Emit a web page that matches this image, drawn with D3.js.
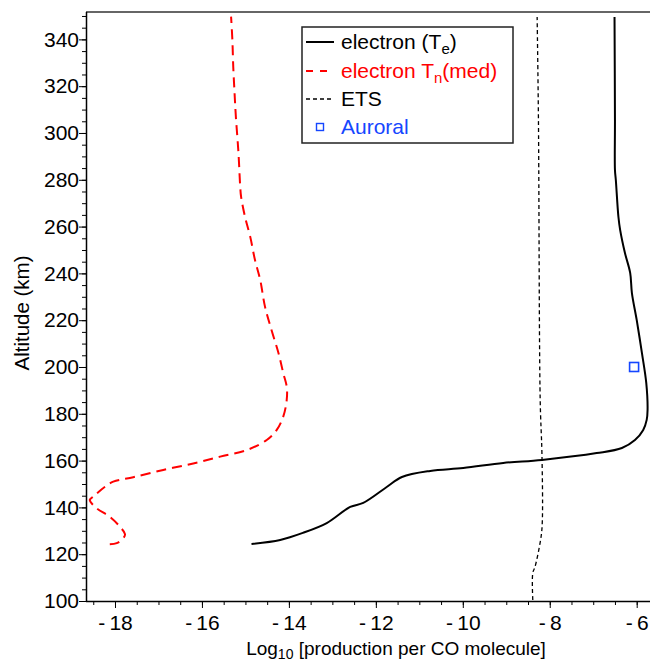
<!DOCTYPE html>
<html>
<head>
<meta charset="utf-8">
<script src="https://cdn.jsdelivr.net/npm/d3@7"></script>
<style>
  body { margin: 0; background: #fff; }
  svg { display: block; font-family: "Liberation Sans", Arial, sans-serif; }
</style>
</head>
<body>
<script>
// electron (Te) profile
const teAlt = [124.4, 126.1, 129.1, 133.3, 140.2, 141.9, 148.7, 153.0, 155.6, 156.8, 159.0, 160.3, 163.2, 165.4, 168.8, 173.1, 177.4, 181.6, 193.2, 206.0, 220.1, 231.6, 240.2, 248.7, 258.5, 264.1, 279.9, 284.2, 305.6, 349.6];
const teVal = [-14.86, -14.20, -13.68, -13.13, -12.59, -12.29, -11.75, -11.40, -10.75, -9.99, -9.07, -8.18, -6.92, -6.34, -6.04, -5.85, -5.77, -5.75, -5.78, -5.88, -6.00, -6.11, -6.15, -6.27, -6.38, -6.42, -6.48, -6.50, -6.50, -6.51];

// electron Tn(med) profile
const tnAlt = [124.2, 124.7, 126.8, 128.6, 131.8, 136.0, 139.6, 143.2, 144.6, 148.8, 151.0, 152.9, 156.0, 158.8, 161.7, 164.5, 168.8, 173.1, 178.8, 185.9, 191.6, 197.4, 206.0, 215.8, 225.8, 237.2, 245.7, 255.7, 264.2, 272.8, 277.1, 291.5, 307.0, 317.1, 328.3, 339.7, 349.7];
const tnVal = [-18.12, -17.96, -17.81, -17.77, -17.89, -18.12, -18.42, -18.58, -18.50, -18.23, -18.04, -17.58, -16.89, -16.20, -15.58, -14.97, -14.51, -14.28, -14.13, -14.05, -14.05, -14.13, -14.24, -14.40, -14.55, -14.66, -14.78, -14.89, -15.01, -15.10, -15.12, -15.16, -15.22, -15.25, -15.28, -15.30, -15.33];

// ETS profile
const etsAlt = [100.4, 112.0, 114.5, 127.4, 134.6, 163.2, 186.0, 305.6, 349.6];
const etsVal = [-8.39, -8.39, -8.34, -8.20, -8.17, -8.18, -8.22, -8.26, -8.29];

// Auroral point
const aurAlt = [200];
const aurVal = [-6.06];

const xMajor = [-18, -16, -14, -12, -10, -8, -6];
const yMajor = [100, 120, 140, 160, 180, 200, 220, 240, 260, 280, 300, 320, 340];

const W = 650, H = 662;
const mLeft = 86, mRight = 650, mTop = 12, mBottom = 601;

const x = d3.scaleLinear().domain([-18.667, -5.694]).range([mLeft, mRight]);
const y = d3.scaleLinear().domain([100, 351.7]).range([mBottom, mTop]);

const svg = d3.select("body").append("svg")
  .attr("width", W).attr("height", H);

// top border
svg.append("line")
  .attr("x1", mLeft).attr("x2", mRight)
  .attr("y1", mTop).attr("y2", mTop)
  .attr("stroke", "#333").attr("stroke-width", 1.6);

// minor ticks
svg.append("g")
  .attr("transform", "translate(0," + mBottom + ")")
  .call(d3.axisBottom(x).tickValues(d3.range(-18.5, -5.6, 0.5)).tickSize(4).tickFormat(""))
  .call(g => g.select(".domain").remove());
svg.append("g")
  .attr("transform", "translate(" + mLeft + ",0)")
  .call(d3.axisLeft(y).tickValues(d3.range(105, 351, 5)).tickSize(4).tickFormat(""))
  .call(g => g.select(".domain").remove());

const fmtX = d => "-\u2009" + Math.abs(d);

const xAxis = svg.append("g")
  .attr("transform", "translate(0," + mBottom + ")")
  .call(d3.axisBottom(x).tickValues(xMajor).tickSize(7).tickSizeOuter(0).tickFormat(fmtX));
xAxis.select(".domain").attr("d", "M" + mLeft + ",0.5H" + mRight).attr("stroke-width", 1.5);
xAxis.selectAll("text").attr("font-size", 21).attr("fill", "#000").attr("dy", "0.9em");

const yAxis = svg.append("g")
  .attr("transform", "translate(" + mLeft + ",0)")
  .call(d3.axisLeft(y).tickValues(yMajor).tickSize(7).tickSizeOuter(0));
yAxis.select(".domain").attr("d", "M0.5," + mBottom + "V" + mTop).attr("stroke-width", 1.5);
yAxis.selectAll("text").attr("font-size", 21).attr("fill", "#000").attr("x", -7);

// axis titles
const xt = svg.append("text")
  .attr("x", 396).attr("y", 655)
  .attr("text-anchor", "middle").attr("font-size", 19);
xt.append("tspan").text("Log");
xt.append("tspan").attr("font-size", 14).attr("dy", 4).text("10");
xt.append("tspan").attr("dy", -4).text(" [production per CO molecule]");

svg.append("text")
  .attr("transform", "translate(29,313) rotate(-90)")
  .attr("text-anchor", "middle").attr("font-size", 20.5)
  .text("Altitude (km)");

// curves
const line = d3.line()
  .x(d => x(d[0])).y(d => y(d[1]))
  .curve(d3.curveCatmullRom);

svg.append("path")
  .attr("d", line(d3.zip(etsVal, etsAlt)))
  .attr("fill", "none").attr("stroke", "#000")
  .attr("stroke-width", 1.3).attr("stroke-dasharray", "4,3");

svg.append("path")
  .attr("d", line(d3.zip(tnVal, tnAlt)))
  .attr("fill", "none").attr("stroke", "#ff0000")
  .attr("stroke-width", 2).attr("stroke-dasharray", "10,6");

svg.append("path")
  .attr("d", line(d3.zip(teVal, teAlt)))
  .attr("fill", "none").attr("stroke", "#000")
  .attr("stroke-width", 2);

svg.selectAll("rect.aur")
  .data(d3.zip(aurVal, aurAlt))
  .enter().append("rect")
  .attr("class", "aur")
  .attr("x", d => x(d[0]) - 4.5).attr("y", d => y(d[1]) - 4.5)
  .attr("width", 9).attr("height", 9)
  .attr("fill", "none").attr("stroke", "#1546ff").attr("stroke-width", 1.6);

// legend
const lg = svg.append("g");
lg.append("rect")
  .attr("x", 302).attr("y", 27).attr("width", 211).attr("height", 116)
  .attr("fill", "#fff").attr("stroke", "#222").attr("stroke-width", 1.5);

const rowY = [42, 71, 99, 127];
lg.append("line").attr("x1", 306).attr("x2", 334).attr("y1", rowY[0]).attr("y2", rowY[0])
  .attr("stroke", "#000").attr("stroke-width", 2);
lg.append("line").attr("x1", 306).attr("x2", 334).attr("y1", rowY[1]).attr("y2", rowY[1])
  .attr("stroke", "#ff0000").attr("stroke-width", 2).attr("stroke-dasharray", "7,7");
lg.append("line").attr("x1", 306).attr("x2", 334).attr("y1", rowY[2]).attr("y2", rowY[2])
  .attr("stroke", "#000").attr("stroke-width", 1.3).attr("stroke-dasharray", "4,3");
lg.append("rect").attr("x", 316.5).attr("y", rowY[3] - 3.5).attr("width", 7).attr("height", 7)
  .attr("fill", "none").attr("stroke", "#1546ff").attr("stroke-width", 1.4);

const fs = 21;
const t1 = lg.append("text").attr("x", 341).attr("y", rowY[0] + 7).attr("font-size", fs).attr("fill", "#000");
t1.append("tspan").text("electron (T");
t1.append("tspan").attr("font-size", 15).attr("dy", 5).text("e");
t1.append("tspan").attr("dy", -5).text(")");

const t2 = lg.append("text").attr("x", 341).attr("y", rowY[1] + 7).attr("font-size", fs).attr("fill", "#ff0000");
t2.append("tspan").text("electron T");
t2.append("tspan").attr("font-size", 15).attr("dy", 5).text("n");
t2.append("tspan").attr("dy", -5).text("(med)");

lg.append("text").attr("x", 341).attr("y", rowY[2] + 7).attr("font-size", fs).attr("fill", "#000").text("ETS");
lg.append("text").attr("x", 341).attr("y", rowY[3] + 7).attr("font-size", fs).attr("fill", "#1546ff").text("Auroral");
</script>
</body>
</html>
